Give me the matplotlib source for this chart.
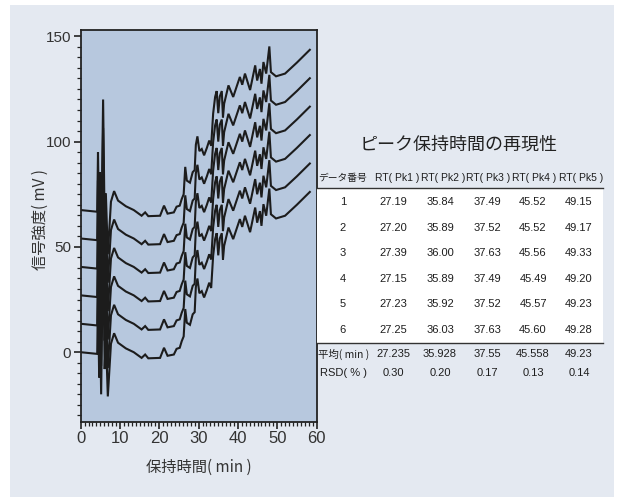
import matplotlib
matplotlib.use("Agg")
import matplotlib.pyplot as plt
import numpy as np
from matplotlib.patches import Rectangle
from matplotlib.lines import Line2D

plt.rcParams['font.family'] = ['Liberation Sans', 'Noto Sans CJK JP', 'DejaVu Sans']
JP = ['Noto Sans CJK JP', 'Liberation Sans', 'DejaVu Sans']

# クロマトグラムの形 (一番下のトレースを基準)
rt = [0.0, 4.2, 4.4, 4.7, 4.9, 5.2, 5.7, 6.1, 6.4, 6.9, 7.7, 8.5, 9.5, 11.5, 13.5, 15.5,
      16.4, 17.2, 20.2, 21.2, 22.1, 23.7, 24.4, 25.2, 25.7, 26.2, 26.6, 27.0, 27.8, 28.5,
      29.0, 29.3, 29.7, 30.2, 30.8, 31.4, 32.1, 32.7, 33.2, 33.7, 34.2, 34.6,
      35.0, 35.4, 35.9, 36.2, 36.5, 37.6, 38.8, 40.5, 41.1, 41.8, 43.1, 44.4,
      44.9, 45.6, 46.0, 46.5, 47.2, 48.0, 48.4, 49.7, 52.0, 55.0, 58.3]
signal = [0.0, -0.8, 27.5, -12.0, 18.0, -20.0, 52.5, -8.0, 8.0, -21.0, 4.0, 9.0, 4.5, 1.8, 0.0, -2.7,
          -1.1, -2.9, -2.7, 2.1, -1.7, -1.1, 1.6, 2.1, 5.2, 7.5, 20.5, 14.0, 13.0, 18.0,
          19.0, 31.0, 35.0, 28.0, 29.0, 26.0, 29.5, 33.0, 30.5, 45.8, 53.7, 56.5,
          46.0, 54.0, 56.5, 44.0, 50.5, 59.2, 53.7, 63.2, 59.5, 64.8, 57.0, 68.7,
          61.5, 67.0, 60.0, 70.3, 64.8, 77.7, 65.5, 63.5, 64.8, 70.0, 76.1]
# 各データのベースライン
baselines = [0.0, 13.5, 27.0, 40.5, 54.0, 67.5]

# 表
table_title = "ピーク保持時間の再現性"
col_labels = ["RT( Pk1 )", "RT( Pk2 )", "RT( Pk3 )", "RT( Pk4 )", "RT( Pk5 )"]
run_ids = ["1", "2", "3", "4", "5", "6"]
rt_values = [
    ["27.19", "35.84", "37.49", "45.52", "49.15"],
    ["27.20", "35.89", "37.52", "45.52", "49.17"],
    ["27.39", "36.00", "37.63", "45.56", "49.33"],
    ["27.15", "35.89", "37.49", "45.49", "49.20"],
    ["27.23", "35.92", "37.52", "45.57", "49.23"],
    ["27.25", "36.03", "37.63", "45.60", "49.28"],
]
mean_values = ["27.235", "35.928", "37.55", "45.558", "49.23"]
rsd_values = ["0.30", "0.20", "0.17", "0.13", "0.14"]

W, H = 624, 500
fig = plt.figure(figsize=(W / 100, H / 100), dpi=100, facecolor='white')


def fx(px):
    return px / W


def fy(py):
    return 1 - py / H


# 背景パネル
fig.patches.append(Rectangle((fx(10), fy(497)), fx(604), 492 / H, transform=fig.transFigure,
                             facecolor='#e4e9f1', edgecolor='none', zorder=-10))

ax = fig.add_axes([fx(80.7), fy(421.7), 235.8 / W, 391.7 / H])
ax.set_facecolor('#b7c8de')
for b in baselines:
    ax.plot(rt, np.array(signal) + b, color='#1c1c1c', lw=1.5, solid_joinstyle='miter')

ax.set_xlim(0, 60)
ax.set_ylim(-33, 153)
ax.set_xticks(range(0, 61, 10))
ax.set_xticks(range(0, 61, 1), minor=True)
ax.set_yticks([0, 50, 100, 150])
ax.set_yticks(range(-30, 151, 5), minor=True)
ax.tick_params(which='major', direction='out', length=5, width=1.2, color='#222222', labelcolor='#333333')
ax.tick_params(which='minor', direction='out', length=3, width=0.9, color='#222222')
ax.tick_params(axis='x', labelsize=12, pad=2)
ax.tick_params(axis='y', labelsize=11, pad=2)
for s in ax.spines.values():
    s.set_linewidth(1.3)
    s.set_color('#222222')

ax.set_xlabel("保持時間( min )", family=JP, fontsize=11, color='#333333', va='center')
ax.xaxis.set_label_coords(0.5, -0.116)
ax.set_ylabel("信号強度( mV )", family=JP, fontsize=11, color='#333333', va='center')
ax.yaxis.set_label_coords(-0.173, 0.517)

# 表
fig.patches.append(Rectangle((fx(317), fy(342.7)), (603 - 317) / W, (342.7 - 188.3) / H,
                             transform=fig.transFigure, facecolor='white', edgecolor='none', zorder=1))
for yy in [188.3, 342.7]:
    fig.lines.append(Line2D([fx(317), fx(603)], [fy(yy), fy(yy)], transform=fig.transFigure,
                            color='#333333', lw=1.0, zorder=2))

txt = dict(color='#1e1e1e', fontsize=8, va='center', zorder=3)
fig.text(fx(459), fy(145), table_title, family=JP, fontsize=13, ha='center', va='center', color='#222222')
fig.text(fx(318), fy(178), "データ番号", family=JP, ha='left', **dict(txt, fontsize=7))
head_x = [397.5, 443, 488.5, 534, 581]
col_x = [393, 440, 487, 533, 579]
for cx, lab in zip(head_x, col_labels):
    fig.text(fx(cx), fy(178), lab, ha='center', **dict(txt, fontsize=7.5))
row_y = [201.7, 227.7, 253.3, 279, 304.3, 330]
for ry, rid, vals in zip(row_y, run_ids, rt_values):
    fig.text(fx(343), fy(ry), rid, ha='center', **txt)
    for cx, v in zip(col_x, vals):
        fig.text(fx(cx), fy(ry), v, ha='center', **txt)
fig.text(fx(318), fy(354.3), "平均( min )", family=JP, ha='left', **dict(txt, fontsize=7.5))
fig.text(fx(320), fy(373.3), "RSD( % )", ha='left', **txt)
for cx, m, r in zip(col_x, mean_values, rsd_values):
    fig.text(fx(cx), fy(354.3), m, ha='center', **txt)
    fig.text(fx(cx), fy(373.3), r, ha='center', **txt)

fig.savefig("out.png", dpi=100, facecolor='white')
